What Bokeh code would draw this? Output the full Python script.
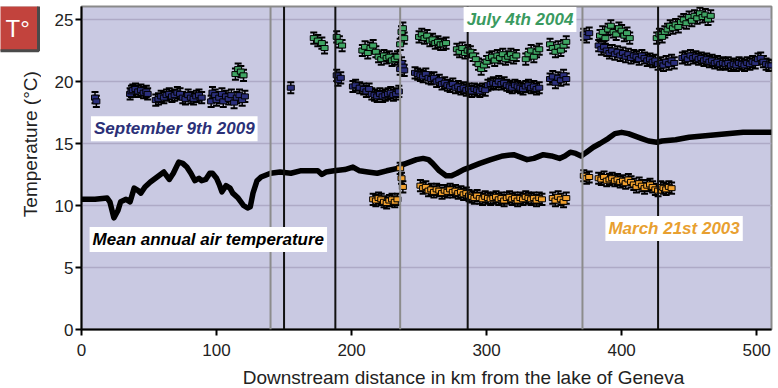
import math
from bokeh.plotting import figure
from bokeh.models import Label, Span, Range1d, ColumnDataSource
from bokeh.core.properties import value
from bokeh.layouts import row, column
from bokeh.embed import file_html
from bokeh.resources import INLINE

# ---------------- data ----------------
# Mean annual air temperature along the river
km_mean = [0, 10, 19, 21, 24, 27, 29, 33, 36, 39, 42, 44, 47, 51, 56, 61, 65, 68, 72, 75,
           78, 81, 84, 87, 89, 92, 95, 97, 100, 102, 104, 107, 110, 112, 116, 120, 123, 125, 127, 130,
           133, 140, 147, 155, 162, 168, 175, 178, 181, 187, 195, 201, 206, 212, 219, 226, 234, 238, 243, 248,
           253, 257, 260, 265, 270, 274, 278, 283, 288, 295, 303, 312, 320, 325, 330, 335, 342, 348, 354, 358,
           362, 366, 370, 374, 379, 384, 390, 395, 400, 405, 410, 415, 420, 426, 430, 440, 450, 460, 470, 480,
           490, 500, 511]
t_mean = [10.5, 10.5, 10.6, 10.3, 9.0, 9.6, 10.3, 10.5, 10.3, 11.4, 11.2, 11.0, 11.5, 11.9, 12.3, 12.7, 12.1, 12.6, 13.5, 13.4,
          13.1, 12.6, 12.0, 12.2, 12.0, 12.1, 12.6, 12.6, 12.2, 11.7, 11.1, 11.6, 11.4, 11.0, 10.6, 10.0, 9.8, 9.9, 11.0, 12.0,
          12.3, 12.6, 12.7, 12.6, 12.8, 12.8, 12.8, 12.5, 12.7, 12.8, 12.9, 13.1, 12.8, 12.7, 12.6, 12.8, 13.0, 13.3, 13.5, 13.7,
          13.8, 13.7, 13.4, 12.8, 12.4, 12.4, 12.6, 12.9, 13.1, 13.4, 13.7, 14.0, 14.1, 13.9, 13.7, 13.8, 14.1, 14.0, 13.8, 14.0,
          14.3, 14.2, 14.0, 14.3, 14.7, 15.0, 15.4, 15.8, 15.9, 15.8, 15.6, 15.4, 15.2, 15.1, 15.2, 15.3, 15.5, 15.6, 15.7, 15.8,
          15.9, 15.9, 15.9]

# September 9th 2009 (water temperature)
km_sep = [10, 11,
          36, 37, 38, 40, 42, 44, 46, 48, 49,
          55, 57, 59, 61, 63, 65, 67, 69, 71, 73, 75, 77, 79, 81, 83, 85, 87, 89,
          96, 97, 99, 100, 102, 104, 105, 107, 109, 111, 113, 115, 117, 119, 121,
          155,
          189, 190, 192,
          201, 203, 206, 209, 211, 213, 215, 217, 219, 221, 223, 225, 227, 229, 231, 233, 235,
          236, 237, 238, 239,
          247, 249, 251, 253, 255, 257, 259, 261, 263, 265, 267, 269, 271, 273, 275, 277, 279, 281, 283, 285, 287,
          289, 291, 293, 295, 297, 299, 301, 303, 305, 307, 309, 311, 313, 315, 317, 319, 321, 323, 325, 327,
          329, 331, 333, 335, 337, 339,
          347, 349, 351, 353, 355, 357, 359,
          372, 374, 376,
          383, 385, 387, 389, 391, 393, 395, 397, 399, 401, 403, 405, 407, 409, 411, 413, 415, 417, 419, 421,
          423, 425, 427, 429, 431, 433, 435, 437, 439,
          445, 447, 449, 451, 453, 455, 457, 459, 461, 463, 465, 467, 469, 471, 473, 475, 477, 479, 481, 483,
          485, 487, 489, 491, 493, 495, 497, 499, 501, 503, 505, 507, 509, 511]
t_sep = [18.7, 18.4,
         19.0, 19.2, 19.3, 19.4, 19.2, 19.3, 19.1, 19.2, 19.0,
         18.5, 18.6, 18.8, 18.7, 18.9, 19.0, 18.8, 18.9, 19.1, 19.0, 18.7, 18.6, 18.9, 18.7, 18.6, 18.8, 18.9, 18.7,
         18.4, 19.1, 18.9, 18.5, 18.7, 19.0, 18.4, 18.8, 18.6, 18.9, 18.3, 18.7, 18.9, 18.5, 18.8,
         19.5,
         20.5, 20.1, 20.3,
         19.6, 19.7, 19.5, 19.4, 19.2, 19.4, 19.0, 18.9, 18.8, 19.0, 18.8, 18.9, 19.0, 19.1, 18.9, 19.0, 19.2,
         21.0, 21.5, 21.2, 20.9,
         20.7, 20.6, 20.5, 20.4, 20.6, 20.3, 20.2, 20.3, 20.0, 20.1, 19.8, 19.9, 19.7, 19.6, 19.8, 19.5, 19.6, 19.4, 19.5, 19.3, 19.4,
         19.2, 19.4, 19.3, 19.2, 19.4, 19.3, 19.7, 19.8, 19.9, 19.8, 20.0, 19.8, 19.9, 19.7, 19.6, 19.5, 19.7, 19.6, 19.5, 19.4,
         19.6, 19.7, 19.5, 19.6, 19.4, 19.5,
         20.2, 20.4, 19.9, 20.3, 20.1, 20.5, 20.2,
         23.8, 23.6, 23.9,
         22.9, 22.6, 22.8, 22.5, 22.3, 22.5, 22.2, 22.4, 22.1, 22.3, 22.0, 22.2, 21.9, 22.1, 22.0, 21.8, 22.1, 21.9, 21.7, 21.8,
         21.6, 21.7, 21.4, 21.5, 21.3, 21.6, 21.4, 21.7, 21.5,
         21.9, 22.0, 21.8, 22.1, 21.9, 22.0, 21.8, 21.9, 21.7, 21.8, 21.6, 21.7, 21.5, 21.6, 21.4, 21.5, 21.4, 21.5, 21.3, 21.4,
         21.3, 21.5, 21.4, 21.3, 21.5, 21.4, 21.6, 21.5, 21.8, 21.9, 21.6, 21.4, 21.3, 21.3]

# July 4th 2004
km_jul = [114, 116, 118, 120,
          172, 175, 178, 180,
          189, 191, 193,
          208, 210, 212, 214, 216, 218, 220, 222, 224, 226, 228, 230, 232, 234,
          236, 237, 238, 239,
          250, 252, 254, 256, 258, 260, 262, 264, 266, 268, 270,
          278, 280, 282, 284, 286,
          288, 290, 292, 294, 296, 298, 300, 302, 304, 306, 308, 310, 312, 314, 316, 318, 320, 322,
          329, 331, 333, 335, 337, 339,
          347, 349, 351, 353, 355, 357, 359,
          384, 386, 388, 390, 392, 394, 396, 398, 400, 402, 404, 406,
          426, 428, 430, 432, 434, 436, 438, 440, 442, 444, 446, 448, 450, 452, 454, 456, 458, 460, 462, 464, 466]
t_jul = [20.6, 21.0, 20.8, 20.5,
         23.5, 23.3, 23.1, 22.7,
         23.6, 23.2, 22.9,
         22.5, 22.8, 22.3, 22.7, 22.9, 22.4, 22.0, 21.8, 22.1, 21.9, 22.0, 21.7, 21.8, 22.0,
         23.0, 24.0, 24.3, 23.5,
         23.6, 23.8, 23.5, 23.7, 23.3, 23.4, 23.1, 23.2, 23.0, 23.0, 23.1,
         22.6, 22.4, 22.7, 22.3, 22.5,
         22.4, 22.1, 21.8, 21.4, 21.0, 21.3, 21.6, 21.9, 22.0, 21.7, 22.1, 21.9, 22.2, 21.8, 22.0, 22.2, 21.9, 22.1,
         21.8, 22.2, 22.5, 22.0, 22.4, 22.6,
         23.0, 22.7, 22.4, 22.8, 22.5, 22.9, 23.2,
         23.7, 24.0, 23.5, 24.2, 24.5, 24.0, 23.8, 24.3, 24.1, 23.7, 23.9, 23.5,
         23.5, 23.8, 23.6, 24.0, 24.2, 24.5, 24.3, 24.6, 24.4, 24.8, 25.0, 24.7, 25.2, 24.9, 25.3, 25.1, 25.5, 25.2, 25.4, 25.0, 25.3]

# March 21st 2003
km_mar = [216, 218, 220, 222, 224, 226, 228, 230, 232, 234,
          236, 237, 238,
          251, 253, 255, 257, 259, 261, 263, 265, 267, 269, 271, 273, 275, 277, 279, 281, 283, 285, 287,
          289, 291, 293, 295, 297, 299, 301, 303, 305, 307, 309, 311, 313, 315, 317, 319, 321, 323, 325, 327,
          329, 331, 333, 335, 337, 339, 341,
          349, 351, 353, 355, 357, 359,
          372, 374, 376,
          383, 385, 387, 389, 391, 393, 395, 397, 399, 401, 403, 405, 407, 409, 411, 413, 415, 417, 419, 421,
          423, 425, 427, 429, 431, 433, 435, 437]
t_mar = [10.5, 10.4, 10.6, 10.5, 10.3, 10.2, 10.4, 10.5, 10.3, 10.5,
         13.0, 12.2, 11.5,
         11.6, 11.4, 11.5, 11.2, 11.3, 11.1, 11.3, 11.2, 11.0, 11.2, 11.1, 11.3, 11.1, 11.2, 11.0, 11.1, 10.9, 11.0, 10.8,
         10.7, 10.6, 10.8, 10.6, 10.5, 10.7, 10.6, 10.5, 10.6, 10.7, 10.5, 10.6, 10.4, 10.6, 10.7, 10.5, 10.6, 10.4, 10.6, 10.5,
         10.7, 10.6, 10.5, 10.6, 10.4, 10.6, 10.5,
         10.6, 10.4, 10.7, 10.5, 10.3, 10.6,
         12.4, 12.2, 12.3,
         12.2, 12.1, 12.3, 12.0, 12.1, 12.2, 12.0, 12.1, 11.9, 12.0, 11.8, 12.1, 11.9, 11.7, 11.5, 11.8, 11.6, 11.4, 11.6, 11.7,
         11.5, 11.3, 11.2, 11.5, 11.4, 11.3, 11.5, 11.4]

ERR = 0.45  # half-width of the measurement error bars (deg C)

boundaries_grey = [140, 236, 371]
boundaries_black = [150, 188, 286, 427]

x_ticks = [0, 100, 200, 300, 400, 500]
y_ticks = [0, 5, 10, 15, 20, 25]

X_TITLE = "Downstream distance in km from the lake of Geneva"
Y_TITLE = "Temperature (°C)"
BADGE = "T°"

FONT = "Liberation Sans"

# ---------------- main chart ----------------
p = figure(width=737, height=366, x_range=Range1d(0, 511), y_range=Range1d(0, 26.05),
           output_backend="svg", toolbar_location=None,
           min_border_left=40, min_border_right=7, min_border_top=6, min_border_bottom=37)

p.background_fill_color = "#c9c9e2"
p.border_fill_color = "white"
p.outline_line_color = "#8a8a8a"
p.outline_line_width = 2

p.xgrid.grid_line_color = None
p.ygrid.grid_line_color = "#aeaac6"
p.ygrid.grid_line_width = 1.5

for ax in (p.xaxis[0], p.yaxis[0]):
    ax.axis_line_color = "black"
    ax.axis_line_width = 2
    ax.major_tick_line_color = "black"
    ax.major_tick_line_width = 2
    ax.major_tick_out = 6
    ax.major_tick_in = 0
    ax.minor_tick_line_color = None
    ax.major_label_text_font = FONT
    ax.major_label_text_font_size = "17px"
    ax.major_label_text_color = "#222222"
p.xaxis.ticker = x_ticks
p.yaxis.ticker = y_ticks
p.xaxis.major_label_standoff = 8
p.yaxis.major_label_standoff = 2

for b in boundaries_grey:
    p.add_layout(Span(location=b, dimension="height", line_color="#8c8c8c", line_width=2))
for b in boundaries_black:
    p.add_layout(Span(location=b, dimension="height", line_color="#111111", line_width=2))

# mean annual air temperature
p.line(km_mean, t_mean, line_color="black", line_width=5.5, line_join="round")


def draw_series(xs, ys, color):
    src = ColumnDataSource(dict(x=xs, y=ys,
                                lo=[v - ERR for v in ys], hi=[v + ERR for v in ys]))
    p.segment(x0="x", y0="lo", x1="x", y1="hi", source=src, line_color="black", line_width=1.5)
    p.scatter(x="x", y="lo", source=src, marker="dash", size=7, line_color="black", line_width=2)
    p.scatter(x="x", y="hi", source=src, marker="dash", size=7, line_color="black", line_width=2)
    p.rect(x="x", y="y", width=7, height=5, width_units="screen", height_units="screen",
           source=src, fill_color=color, line_color="black", line_width=1)


draw_series(km_mar, t_mar, "#f2a12e")
draw_series(km_sep, t_sep, "#2b2f7c")
draw_series(km_jul, t_jul, "#3fa564")


def tag(x, y, text, color):
    p.add_layout(Label(x=x, y=y, text=text, text_color=color, text_font=FONT,
                       text_font_size="17px", text_font_style="bold italic",
                       text_align="left", text_baseline="middle",
                       background_fill_color="white", padding=3))


tag(7.0, 16.2, "September 9th 2009", "#2b3178")
tag(283, 25.0, "July 4th 2004", "#3a9a60")
tag(6.0, 7.26, "Mean annual air temperature", "black")
tag(388, 8.15, "March 21st 2003", "#e8a030")


def blank_panel(w, h):
    f = figure(width=w, height=h, x_range=Range1d(0, w), y_range=Range1d(h, 0),
               output_backend="svg", toolbar_location=None,
               min_border=0, min_border_left=0, min_border_right=0,
               min_border_top=0, min_border_bottom=0)
    f.axis.visible = False
    f.grid.visible = False
    f.outline_line_color = None
    f.background_fill_color = "white"
    f.border_fill_color = "white"
    return f


# ---------------- left strip: corner badge + y title ----------------
left = blank_panel(41, 366)
left.quad(left=-12, right=38, top=-2, bottom=50, fill_color="#c2433d",
          line_color="#4a4a4a", line_width=3)
left.text(x=[5], y=[25], text=[BADGE], text_color="white", text_font_size="24px",
          text_align="left", text_baseline="middle", text_font=value(FONT))
left.text(x=[30], y=[156], text=[Y_TITLE], angle=math.pi / 2, text_color="#222222",
          text_font_size="19px", text_align="center", text_baseline="middle",
          text_font=value(FONT))

# ---------------- bottom strip: x title ----------------
bottom = blank_panel(778, 22)
bottom.text(x=[463], y=[11], text=[X_TITLE], text_color="#222222",
            text_font_size="19px", text_align="center", text_baseline="middle",
            text_font=value(FONT))

layout = column(row(left, p, spacing=0), bottom, spacing=0)

open("out.html", "w").write(file_html(layout, INLINE))
